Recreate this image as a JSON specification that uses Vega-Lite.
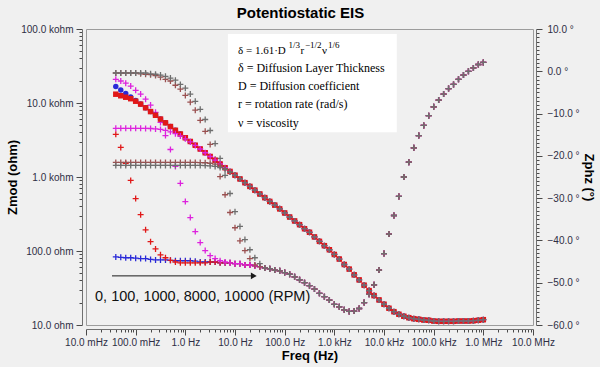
{
"$schema":"https://vega.github.io/schema/vega-lite/v6.json",
"width":447,"height":296,
"autosize":{"type":"none"},
"padding":{"left":86,"top":29,"right":67,"bottom":42},
"background":"#f0f0f0",
"title":{"text":"Potentiostatic EIS","font":"Liberation Sans","fontSize":15,"fontWeight":"bold","color":"#000000","anchor":"middle","frame":"group","dx":-9,"offset":3},
"config":{"view":{"stroke":"#9c9c9c","strokeWidth":1,"fill":"#f0f0f0"},"axis":{"grid":false,"domainColor":"#707070","tickColor":"#4a4a4a","labelFont":"Liberation Sans","labelFontSize":10,"labelColor":"#2e2e44","titleFont":"Liberation Sans","titleFontSize":13,"titleFontWeight":"bold","titleColor":"#000000","labelOverlap":false,"labelFlush":false}},
"datasets":{"eis":[
{"f":1000000,"z0":11.8,"z100":11.8,"z1000":11.8,"z8000":11.8,"z10000":11.8,"p0":2.1,"p100":2.1,"p1000":2.1,"p8000":2.1,"p10000":2.1},
{"f":794328,"z0":11.58,"z100":11.58,"z1000":11.58,"z8000":11.58,"z10000":11.58,"p0":1.6,"p100":1.6,"p1000":1.6,"p8000":1.6,"p10000":1.6},
{"f":630957,"z0":11.43,"z100":11.43,"z1000":11.43,"z8000":11.43,"z10000":11.43,"p0":0.8,"p100":0.8,"p1000":0.8,"p8000":0.8,"p10000":0.8},
{"f":501187,"z0":11.32,"z100":11.32,"z1000":11.32,"z8000":11.32,"z10000":11.32,"p0":0,"p100":0,"p1000":0,"p8000":0,"p10000":0},
{"f":398107,"z0":11.32,"z100":11.32,"z1000":11.32,"z8000":11.32,"z10000":11.32,"p0":-0.9,"p100":-0.9,"p1000":-0.9,"p8000":-0.9,"p10000":-0.9},
{"f":316228,"z0":11.32,"z100":11.32,"z1000":11.32,"z8000":11.32,"z10000":11.32,"p0":-1.9,"p100":-1.9,"p1000":-1.9,"p8000":-1.9,"p10000":-1.9},
{"f":251189,"z0":11.22,"z100":11.22,"z1000":11.22,"z8000":11.22,"z10000":11.22,"p0":-3.1,"p100":-3.1,"p1000":-3.1,"p8000":-3.1,"p10000":-3.1},
{"f":199526,"z0":11.22,"z100":11.22,"z1000":11.22,"z8000":11.22,"z10000":11.22,"p0":-4.1,"p100":-4.1,"p1000":-4.1,"p8000":-4.1,"p10000":-4.1},
{"f":158489,"z0":11.22,"z100":11.22,"z1000":11.22,"z8000":11.22,"z10000":11.22,"p0":-5.4,"p100":-5.4,"p1000":-5.4,"p8000":-5.4,"p10000":-5.4},
{"f":125893,"z0":11.22,"z100":11.22,"z1000":11.22,"z8000":11.22,"z10000":11.22,"p0":-6.8,"p100":-6.8,"p1000":-6.8,"p8000":-6.8,"p10000":-6.8},
{"f":100000,"z0":11.32,"z100":11.32,"z1000":11.32,"z8000":11.32,"z10000":11.32,"p0":-8.4,"p100":-8.4,"p1000":-8.4,"p8000":-8.4,"p10000":-8.4},
{"f":79433,"z0":11.58,"z100":11.58,"z1000":11.58,"z8000":11.58,"z10000":11.58,"p0":-10.5,"p100":-10.5,"p1000":-10.5,"p8000":-10.5,"p10000":-10.5},
{"f":63096,"z0":11.69,"z100":11.69,"z1000":11.69,"z8000":11.69,"z10000":11.69,"p0":-12.8,"p100":-12.8,"p1000":-12.8,"p8000":-12.8,"p10000":-12.8},
{"f":50119,"z0":11.94,"z100":11.94,"z1000":11.94,"z8000":11.94,"z10000":11.94,"p0":-15.2,"p100":-15.2,"p1000":-15.2,"p8000":-15.2,"p10000":-15.2},
{"f":39811,"z0":12.17,"z100":12.17,"z1000":12.17,"z8000":12.17,"z10000":12.17,"p0":-18.1,"p100":-18.1,"p1000":-18.1,"p8000":-18.1,"p10000":-18.1},
{"f":31623,"z0":12.56,"z100":12.56,"z1000":12.56,"z8000":12.56,"z10000":12.56,"p0":-21.5,"p100":-21.5,"p1000":-21.5,"p8000":-21.5,"p10000":-21.5},
{"f":25119,"z0":13.12,"z100":13.12,"z1000":13.12,"z8000":13.12,"z10000":13.12,"p0":-25,"p100":-25,"p1000":-25,"p8000":-25,"p10000":-25},
{"f":19953,"z0":13.96,"z100":13.96,"z1000":13.96,"z8000":13.96,"z10000":13.96,"p0":-29.6,"p100":-29.6,"p1000":-29.6,"p8000":-29.6,"p10000":-29.6},
{"f":15849,"z0":15.14,"z100":15.14,"z1000":15.14,"z8000":15.14,"z10000":15.14,"p0":-34.1,"p100":-34.1,"p1000":-34.1,"p8000":-34.1,"p10000":-34.1},
{"f":12589,"z0":16.84,"z100":16.84,"z1000":16.84,"z8000":16.84,"z10000":16.84,"p0":-38.5,"p100":-38.5,"p1000":-38.5,"p8000":-38.5,"p10000":-38.5},
{"f":10000,"z0":19.08,"z100":19.08,"z1000":19.08,"z8000":19.08,"z10000":19.08,"p0":-43.1,"p100":-43.1,"p1000":-43.1,"p8000":-43.1,"p10000":-43.1},
{"f":7943,"z0":21.83,"z100":21.83,"z1000":21.83,"z8000":21.83,"z10000":21.83,"p0":-47,"p100":-47,"p1000":-47,"p8000":-47,"p10000":-47},
{"f":6310,"z0":24.96,"z100":24.96,"z1000":24.96,"z8000":24.96,"z10000":24.96,"p0":-50.5,"p100":-50.5,"p1000":-50.5,"p8000":-50.5,"p10000":-50.5},
{"f":5012,"z0":29.17,"z100":29.17,"z1000":29.17,"z8000":29.17,"z10000":29.17,"p0":-52.7,"p100":-52.7,"p1000":-52.7,"p8000":-52.7,"p10000":-52.7},
{"f":3981,"z0":34.5,"z100":34.5,"z1000":34.5,"z8000":34.5,"z10000":34.5,"p0":-54.7,"p100":-54.7,"p1000":-54.7,"p8000":-54.7,"p10000":-54.7},
{"f":3162,"z0":40.7,"z100":40.7,"z1000":40.7,"z8000":40.7,"z10000":40.7,"p0":-56.1,"p100":-56.1,"p1000":-56.1,"p8000":-56.1,"p10000":-56.1},
{"f":2512,"z0":47.6,"z100":47.6,"z1000":47.6,"z8000":47.6,"z10000":47.6,"p0":-56.7,"p100":-56.7,"p1000":-56.7,"p8000":-56.7,"p10000":-56.7},
{"f":1995,"z0":56.9,"z100":56.9,"z1000":56.9,"z8000":56.9,"z10000":56.9,"p0":-56.8,"p100":-56.8,"p1000":-56.8,"p8000":-56.8,"p10000":-56.8},
{"f":1585,"z0":65.7,"z100":65.7,"z1000":65.7,"z8000":65.7,"z10000":65.7,"p0":-56.4,"p100":-56.4,"p1000":-56.4,"p8000":-56.4,"p10000":-56.4},
{"f":1259,"z0":77.8,"z100":77.8,"z1000":77.8,"z8000":77.8,"z10000":77.8,"p0":-55.7,"p100":-55.7,"p1000":-55.7,"p8000":-55.7,"p10000":-55.7},
{"f":1000,"z0":89.8,"z100":89.8,"z1000":89.8,"z8000":89.8,"z10000":89.8,"p0":-55.1,"p100":-55.1,"p1000":-55.1,"p8000":-55.1,"p10000":-55.1},
{"f":794.3,"z0":104,"z100":104,"z1000":104,"z8000":104,"z10000":104,"p0":-54.1,"p100":-54.1,"p1000":-54.1,"p8000":-54.1,"p10000":-54.1},
{"f":631,"z0":118,"z100":118,"z1000":118,"z8000":118,"z10000":118,"p0":-53.3,"p100":-53.3,"p1000":-53.3,"p8000":-53.3,"p10000":-53.3},
{"f":501.2,"z0":135,"z100":135,"z1000":135,"z8000":135,"z10000":135,"p0":-52.5,"p100":-52.5,"p1000":-52.5,"p8000":-52.5,"p10000":-52.5},
{"f":398.1,"z0":155,"z100":155,"z1000":155,"z8000":155,"z10000":155,"p0":-51.5,"p100":-51.5,"p1000":-51.5,"p8000":-51.5,"p10000":-51.5},
{"f":316.2,"z0":179,"z100":179,"z1000":179,"z8000":179,"z10000":179,"p0":-50.7,"p100":-50.7,"p1000":-50.7,"p8000":-50.7,"p10000":-50.7},
{"f":251.2,"z0":200,"z100":200,"z1000":200,"z8000":200,"z10000":200,"p0":-50,"p100":-50,"p1000":-50,"p8000":-50,"p10000":-50},
{"f":199.5,"z0":227,"z100":227,"z1000":227,"z8000":227,"z10000":227,"p0":-49.3,"p100":-49.3,"p1000":-49.3,"p8000":-49.3,"p10000":-49.3},
{"f":158.5,"z0":255,"z100":255,"z1000":255,"z8000":255,"z10000":255,"p0":-48.6,"p100":-48.6,"p1000":-48.6,"p8000":-48.6,"p10000":-48.6},
{"f":125.9,"z0":288,"z100":288,"z1000":288,"z8000":288,"z10000":288,"p0":-48,"p100":-48,"p1000":-48,"p8000":-48,"p10000":-48},
{"f":100,"z0":327,"z100":327,"z1000":327,"z8000":327,"z10000":327,"p0":-47.6,"p100":-47.6,"p1000":-47.6,"p8000":-47.6,"p10000":-47.6},
{"f":79.43,"z0":371,"z100":371,"z1000":371,"z8000":371,"z10000":371,"p0":-47.2,"p100":-47.2,"p1000":-47.2,"p8000":-47.2,"p10000":-47.2},
{"f":63.1,"z0":417,"z100":417,"z1000":417,"z8000":417,"z10000":417,"p0":-47,"p100":-47,"p1000":-47,"p8000":-47,"p10000":-47},
{"f":50.12,"z0":468,"z100":468,"z1000":468,"z8000":468,"z10000":468,"p0":-46.7,"p100":-46.7,"p1000":-46.7,"p8000":-46.7,"p10000":-46.7},
{"f":39.81,"z0":526,"z100":526,"z1000":526,"z8000":526,"z10000":526,"p0":-46.5,"p100":-46.5,"p1000":-46.5,"p8000":-46.5,"p10000":-46.5},
{"f":31.62,"z0":590,"z100":590,"z1000":590,"z8000":590,"z10000":590,"p0":-46.2,"p100":-46.2,"p1000":-46.2,"p8000":-46.2,"p10000":-45.5},
{"f":25.12,"z0":664,"z100":664,"z1000":664,"z8000":664,"z10000":664,"p0":-46,"p100":-46,"p1000":-46,"p8000":-45.8,"p10000":-44.1},
{"f":19.95,"z0":746,"z100":746,"z1000":746,"z8000":746,"z10000":746,"p0":-45.8,"p100":-45.8,"p1000":-45.8,"p8000":-44.3,"p10000":-42.2},
{"f":15.85,"z0":838,"z100":838,"z1000":838,"z8000":838,"z10000":838,"p0":-45.8,"p100":-45.8,"p1000":-45.8,"p8000":-42.4,"p10000":-39.8},
{"f":12.59,"z0":942,"z100":942,"z1000":942,"z8000":942,"z10000":942,"p0":-45.5,"p100":-45.5,"p1000":-45.5,"p8000":-40.1,"p10000":-36.7},
{"f":10,"z0":1058,"z100":1058,"z1000":1058,"z8000":1058,"z10000":1055,"p0":-45.5,"p100":-45.5,"p1000":-45.5,"p8000":-37,"p10000":-33.2},
{"f":7.943,"z0":1189,"z100":1189,"z1000":1189,"z8000":1180,"z10000":1165,"p0":-45.3,"p100":-45.3,"p1000":-45.3,"p8000":-33.4,"p10000":-28.9},
{"f":6.31,"z0":1335,"z100":1335,"z1000":1335,"z8000":1300,"z10000":1265,"p0":-45.3,"p100":-45.3,"p1000":-45.1,"p8000":-29.2,"p10000":-24.6},
{"f":5.012,"z0":1500,"z100":1500,"z1000":1500,"z8000":1410,"z10000":1340,"p0":-45.3,"p100":-45.3,"p1000":-44.8,"p8000":-24.9,"p10000":-20.6},
{"f":3.981,"z0":1686,"z100":1686,"z1000":1686,"z8000":1490,"z10000":1390,"p0":-45.1,"p100":-45.1,"p1000":-44.3,"p8000":-20.8,"p10000":-17.1},
{"f":3.162,"z0":1893,"z100":1893,"z1000":1893,"z8000":1535,"z10000":1415,"p0":-45.1,"p100":-45.1,"p1000":-43.6,"p8000":-17.3,"p10000":-14},
{"f":2.512,"z0":2128,"z100":2128,"z1000":2128,"z8000":1558,"z10000":1427,"p0":-45.1,"p100":-45.3,"p1000":-42.4,"p8000":-14.2,"p10000":-11.4},
{"f":1.995,"z0":2390,"z100":2390,"z1000":2390,"z8000":1568,"z10000":1432,"p0":-45.1,"p100":-45.3,"p1000":-40.5,"p8000":-11.6,"p10000":-9},
{"f":1.585,"z0":2685,"z100":2685,"z1000":2670,"z8000":1574,"z10000":1432,"p0":-44.9,"p100":-45.3,"p1000":-37.9,"p8000":-9.2,"p10000":-7.1},
{"f":1.259,"z0":3020,"z100":3020,"z1000":2980,"z8000":1574,"z10000":1432,"p0":-44.8,"p100":-45.3,"p1000":-34.6,"p8000":-7.3,"p10000":-5.4},
{"f":1,"z0":3390,"z100":3390,"z1000":3280,"z8000":1574,"z10000":1432,"p0":-44.8,"p100":-45.3,"p1000":-30.8,"p8000":-5.7,"p10000":-4},
{"f":0.7943,"z0":3810,"z100":3810,"z1000":3580,"z8000":1574,"z10000":1432,"p0":-44.8,"p100":-45.3,"p1000":-26.5,"p8000":-4.2,"p10000":-3.1},
{"f":0.631,"z0":4276,"z100":4276,"z1000":3850,"z8000":1574,"z10000":1432,"p0":-44.8,"p100":-45.1,"p1000":-22.5,"p8000":-3.3,"p10000":-2.1},
{"f":0.5012,"z0":4808,"z100":4808,"z1000":4080,"z8000":1574,"z10000":1432,"p0":-44.7,"p100":-44.7,"p1000":-18.5,"p8000":-2.3,"p10000":-1.6},
{"f":0.3981,"z0":5395,"z100":5395,"z1000":4260,"z8000":1574,"z10000":1432,"p0":-44.6,"p100":-44.1,"p1000":-15.2,"p8000":-1.9,"p10000":-1.2},
{"f":0.3162,"z0":6067,"z100":6067,"z1000":4390,"z8000":1574,"z10000":1432,"p0":-44.6,"p100":-43.4,"p1000":-12.1,"p8000":-1.4,"p10000":-0.9},
{"f":0.2512,"z0":6823,"z100":6823,"z1000":4470,"z8000":1574,"z10000":1432,"p0":-44.6,"p100":-42,"p1000":-9.7,"p8000":-1,"p10000":-0.7},
{"f":0.1995,"z0":7656,"z100":7656,"z1000":4520,"z8000":1574,"z10000":1432,"p0":-44.5,"p100":-40.3,"p1000":-8,"p8000":-0.8,"p10000":-0.6},
{"f":0.1585,"z0":8610,"z100":8610,"z1000":4540,"z8000":1574,"z10000":1432,"p0":-44.3,"p100":-37.5,"p1000":-6.6,"p8000":-0.7,"p10000":-0.4},
{"f":0.1259,"z0":9660,"z100":9660,"z1000":4550,"z8000":1574,"z10000":1432,"p0":-44.3,"p100":-33.9,"p1000":-5.4,"p8000":-0.6,"p10000":-0.4},
{"f":0.1,"z0":10810,"z100":10570,"z1000":4550,"z8000":1574,"z10000":1432,"p0":-44.2,"p100":-30.1,"p1000":-4.5,"p8000":-0.4,"p10000":-0.4},
{"f":0.07943,"z0":12080,"z100":11430,"z1000":4550,"z8000":1574,"z10000":1432,"p0":-44.1,"p100":-25.8,"p1000":-3.5,"p8000":-0.4,"p10000":-0.4},
{"f":0.0631,"z0":13490,"z100":11970,"z1000":4550,"z8000":1574,"z10000":1432,"p0":-44.1,"p100":-21.8,"p1000":-2.8,"p8000":-0.4,"p10000":-0.4},
{"f":0.05012,"z0":15030,"z100":12530,"z1000":4550,"z8000":1574,"z10000":1432,"p0":-44,"p100":-18,"p1000":-2.3,"p8000":-0.4,"p10000":-0.4},
{"f":0.03981,"z0":16750,"z100":13150,"z1000":4550,"z8000":1574,"z10000":1432,"p0":-43.9,"p100":-14.9,"p1000":-1.9,"p8000":-0.4,"p10000":-0.4}
]},
"layer":[
{"data":{"name":"eis"},
 "transform":[{"fold":["p0","p100","p1000","p8000","p10000"],"as":["s","v"]}],
 "mark":{"type":"point","shape":"M-1,0L1,0M0,-1L0,1","filled":false,"size":36,"strokeWidth":1.3,"opacity":1},
 "encoding":{
  "x":{"field":"f","type":"quantitative","scale":{"type":"log","domain":[0.01,10000000],"nice":false},
   "axis":{"orient":"bottom","offset":4,"values":[0.01,0.02,0.03,0.04,0.05,0.06,0.07,0.08,0.09,0.1,0.2,0.3,0.4,0.5,0.6,0.7,0.8,0.9,1,2,3,4,5,6,7,8,9,10,20,30,40,50,60,70,80,90,100,200,300,400,500,600,700,800,900,1000,2000,3000,4000,5000,6000,7000,8000,9000,10000,20000,30000,40000,50000,60000,70000,80000,90000,100000,200000,300000,400000,500000,600000,700000,800000,900000,1000000,2000000,3000000,4000000,5000000,6000000,7000000,8000000,9000000,10000000],
    "labelExpr":"abs(log(datum.value)/LN10 - round(log(datum.value)/LN10)) > 0.01 ? '' : (datum.value < 0.9 ? format(datum.value*1000, '.1f') + ' mHz' : datum.value < 900 ? format(datum.value, '.1f') + ' Hz' : datum.value < 900000 ? format(datum.value/1000, '.1f') + ' kHz' : format(datum.value/1000000, '.1f') + ' MHz')",
    "tickSize":{"condition":{"test":"abs(log(datum.value)/LN10 - round(log(datum.value)/LN10)) < 0.01","value":6},"value":3},
    "labelPadding":2,
    "title":"Freq (Hz)","titleX":223.5,"titleY":26,"titleBaseline":"middle","titleAlign":"center"}},
  "y":{"field":"v","type":"quantitative","scale":{"domain":[-60,10],"nice":false,"zero":false},
   "axis":{"orient":"right","offset":3,"values":[-60,-59,-58,-57,-56,-55,-54,-53,-52,-51,-50,-49,-48,-47,-46,-45,-44,-43,-42,-41,-40,-39,-38,-37,-36,-35,-34,-33,-32,-31,-30,-29,-28,-27,-26,-25,-24,-23,-22,-21,-20,-19,-18,-17,-16,-15,-14,-13,-12,-11,-10,-9,-8,-7,-6,-5,-4,-3,-2,-1,0,1,2,3,4,5,6,7,8,9,10],
    "labelExpr":"datum.value % 10 == 0 ? format(datum.value, '.1f') + ' °' : ''",
    "tickSize":{"condition":{"test":"datum.value % 10 == 0","value":6},"value":3},
    "labelPadding":5,
    "title":"Zphz (°)","titleAngle":90,"titleX":52,"titleY":148,"titleAlign":"center","titleBaseline":"middle"}},
  "color":{"field":"s","type":"nominal","scale":{"domain":["z0","z100","z1000","z8000","z10000","p0","p100","p1000","p8000","p10000"],"range":["#2a2ad8","#e01818","#dd22dd","#9a5050","#6e6e6e","#2a2ad8","#e01818","#dd22dd","#9a5050","#6e6e6e"]},"legend":null}
 }},
{"layer":[
 {"data":{"values":[{"f1":7.19,"f2":18100,"z1":85500,"z2":4010}]},
  "mark":{"type":"rect","fill":"#ffffff"},
  "encoding":{"x":{"field":"f1","type":"quantitative","scale":{"type":"log","domain":[0.01,10000000],"nice":false}},"x2":{"field":"f2"},
   "y":{"field":"z1","type":"quantitative","scale":{"type":"log","domain":[10,100000],"nice":false}},"y2":{"field":"z2"}}},
 {"data":{"values":[{"t":"δ = Diffusion Layer Thickness","f":11.49,"z":29600},{"t":"D = Diffusion coefficient","f":11.49,"z":16900},{"t":"r = rotation rate (rad/s)","f":11.49,"z":9620},{"t":"ν = viscosity","f":11.49,"z":5310}]},
  "mark":{"type":"text","align":"left","baseline":"middle","font":"Liberation Serif","fontSize":12,"color":"#000000"},
  "encoding":{"x":{"field":"f","type":"quantitative","scale":{"type":"log","domain":[0.01,10000000],"nice":false}},
   "y":{"field":"z","type":"quantitative","scale":{"type":"log","domain":[10,100000],"nice":false}},"text":{"field":"t"}}},
 {"data":{"values":[{"t":"δ = 1.61·D","f":11.49,"z":51000},{"t":"r","f":208.4,"z":51000},{"t":"ν","f":564.6,"z":51000}]},
  "mark":{"type":"text","align":"left","baseline":"middle","font":"Liberation Serif","fontSize":11,"color":"#000000"},
  "encoding":{"x":{"field":"f","type":"quantitative","scale":{"type":"log","domain":[0.01,10000000],"nice":false}},
   "y":{"field":"z","type":"quantitative","scale":{"type":"log","domain":[10,100000],"nice":false}},"text":{"field":"t"}}},
 {"data":{"values":[{"t":"1/3","f":119.5,"z":61700},{"t":"−1/2","f":256.7,"z":61700},{"t":"1/6","f":745.6,"z":61700}]},
  "mark":{"type":"text","align":"left","baseline":"middle","font":"Liberation Serif","fontSize":9,"color":"#000000"},
  "encoding":{"x":{"field":"f","type":"quantitative","scale":{"type":"log","domain":[0.01,10000000],"nice":false}},
   "y":{"field":"z","type":"quantitative","scale":{"type":"log","domain":[10,100000],"nice":false}},"text":{"field":"t"}}},
 {"data":{"values":[{"f1":0.0334,"f2":22.9,"z":46.1}]},
  "mark":{"type":"rule","color":"#1a1a1a","strokeWidth":1},
  "encoding":{"x":{"field":"f1","type":"quantitative","scale":{"type":"log","domain":[0.01,10000000],"nice":false}},"x2":{"field":"f2"},
   "y":{"field":"z","type":"quantitative","scale":{"type":"log","domain":[10,100000],"nice":false}}}},
 {"data":{"values":[{"f":23.9,"z":46.1}]},
  "mark":{"type":"point","shape":"triangle-right","filled":true,"size":45,"color":"#1a1a1a","opacity":1},
  "encoding":{"x":{"field":"f","type":"quantitative","scale":{"type":"log","domain":[0.01,10000000],"nice":false}},
   "y":{"field":"z","type":"quantitative","scale":{"type":"log","domain":[10,100000],"nice":false}}}},
 {"data":{"values":[{"t":"0, 100, 1000, 8000, 10000 (RPM)","f":0.0152,"z":24}]},
  "mark":{"type":"text","align":"left","baseline":"middle","font":"Liberation Sans","fontSize":14.5,"color":"#111111"},
  "encoding":{"x":{"field":"f","type":"quantitative","scale":{"type":"log","domain":[0.01,10000000],"nice":false}},
   "y":{"field":"z","type":"quantitative","scale":{"type":"log","domain":[10,100000],"nice":false}},"text":{"field":"t"}}},
 {"data":{"name":"eis"},
  "transform":[{"fold":["z0","z100"],"as":["s","v"]}],
  "mark":{"type":"point","filled":true,"size":30,"opacity":1},
  "encoding":{"x":{"field":"f","type":"quantitative","scale":{"type":"log","domain":[0.01,10000000],"nice":false}},
   "y":{"field":"v","type":"quantitative","scale":{"type":"log","domain":[10,100000],"nice":false},
    "axis":{"orient":"left","offset":4,"values":[10,20,30,40,50,60,70,80,90,100,200,300,400,500,600,700,800,900,1000,2000,3000,4000,5000,6000,7000,8000,9000,10000,20000,30000,40000,50000,60000,70000,80000,90000,100000],
     "labelExpr":"abs(log(datum.value)/LN10 - round(log(datum.value)/LN10)) > 0.01 ? '' : (datum.value < 900 ? format(datum.value, '.1f') + ' ohm' : format(datum.value/1000, '.1f') + ' kohm')",
     "tickSize":{"condition":{"test":"abs(log(datum.value)/LN10 - round(log(datum.value)/LN10)) < 0.01","value":6},"value":3},
     "labelPadding":3,
     "title":"Zmod (ohm)","titleAngle":-90,"titleX":-70,"titleY":148,"titleAlign":"center","titleBaseline":"middle"}},
   "color":{"field":"s","type":"nominal","scale":{"domain":["z0","z100","z1000","z8000","z10000","p0","p100","p1000","p8000","p10000"],"range":["#2a2ad8","#e01818","#dd22dd","#9a5050","#6e6e6e","#2a2ad8","#e01818","#dd22dd","#9a5050","#6e6e6e"]},"legend":null},
   "shape":{"field":"s","type":"nominal","scale":{"domain":["z0","z100"],"range":["circle","square"]},"legend":null}}},
 {"data":{"name":"eis"},
  "transform":[{"fold":["z1000","z8000","z10000"],"as":["s","v"]}],
  "mark":{"type":"point","shape":"M-1,0L1,0M0,-1L0,1","filled":false,"size":36,"strokeWidth":1.3,"opacity":1},
  "encoding":{"x":{"field":"f","type":"quantitative","scale":{"type":"log","domain":[0.01,10000000],"nice":false}},
   "y":{"field":"v","type":"quantitative","scale":{"type":"log","domain":[10,100000],"nice":false}},
   "color":{"field":"s","type":"nominal","scale":{"domain":["z0","z100","z1000","z8000","z10000","p0","p100","p1000","p8000","p10000"],"range":["#2a2ad8","#e01818","#dd22dd","#9a5050","#6e6e6e","#2a2ad8","#e01818","#dd22dd","#9a5050","#6e6e6e"]},"legend":null}}}
]}
],
"resolve":{"scale":{"y":"independent"}}
}
